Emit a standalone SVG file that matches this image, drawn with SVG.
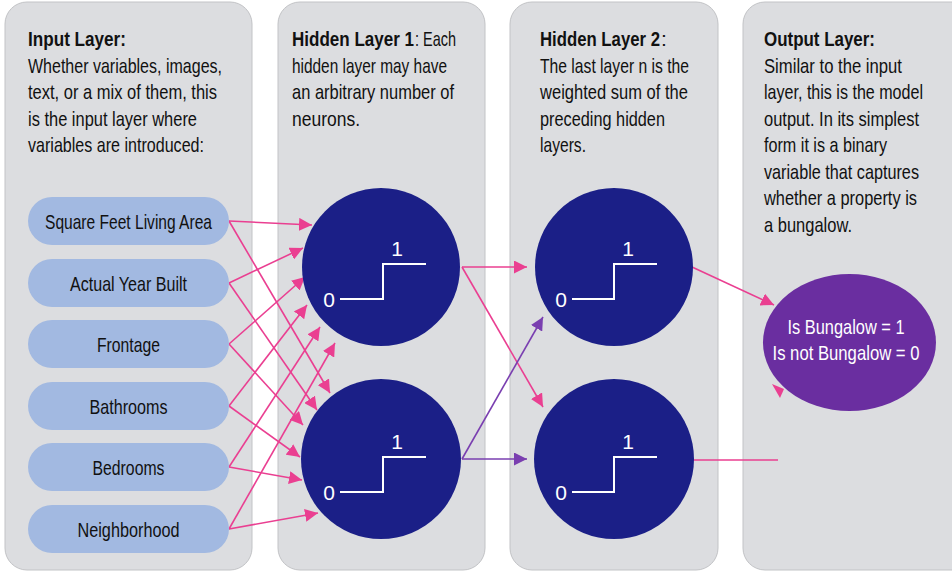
<svg xmlns="http://www.w3.org/2000/svg" width="952" height="573" viewBox="0 0 952 573">
  <style>
    .panel { fill: #dcdde0; stroke: #c2c3c6; stroke-width: 1; }
    .txt { font-family: "Liberation Sans Narrow", "Liberation Sans", Arial, sans-serif; font-size: 21px; fill: #111; }
    .b { font-weight: bold; }
    .pill { fill: #a2b9e1; }
    .pilltxt { font-family: "Liberation Sans Narrow", "Liberation Sans", Arial, sans-serif; font-size: 21px; fill: #111; text-anchor: middle; }
    .neuron { fill: #1b1f87; }
    .step { fill: none; stroke: #ffffff; stroke-width: 2; }
    .num { font-family: "Liberation Sans Narrow", "Liberation Sans", Arial, sans-serif; font-size: 21px; fill: #ffffff; text-anchor: middle; }
    .out { fill: #6a2ea0; }
    .outtxt { font-family: "Liberation Sans Narrow", "Liberation Sans", Arial, sans-serif; font-size: 21px; fill: #ffffff; text-anchor: middle; }
    .pink { stroke: #ea3f91; stroke-width: 1.6; fill: none; }
    .purple { stroke: #7a3fb0; stroke-width: 1.6; fill: none; }
  </style>
  <defs>
    <marker id="arrowPink" markerUnits="userSpaceOnUse" markerWidth="14" markerHeight="13" refX="13" refY="6.5" orient="auto">
      <path d="M0,0 L13,6.5 L0,13 z" fill="#ea3f91"/>
    </marker>
    <marker id="arrowPurple" markerUnits="userSpaceOnUse" markerWidth="14" markerHeight="13" refX="13" refY="6.5" orient="auto">
      <path d="M0,0 L13,6.5 L0,13 z" fill="#7a3fb0"/>
    </marker>
  </defs>

  <rect width="952" height="573" fill="#ffffff"/>

  <!-- layer columns -->
  <g id="panel-input">
    <rect class="panel" x="5" y="2" width="247" height="568" rx="22"/>
    <text class="txt b" x="28" y="46" textLength="98" lengthAdjust="spacingAndGlyphs">Input Layer:</text>
    <text class="txt" x="28" y="72.5" textLength="194" lengthAdjust="spacingAndGlyphs">Whether variables, images,</text>
    <text class="txt" x="28" y="99" textLength="189" lengthAdjust="spacingAndGlyphs">text, or a mix of them, this</text>
    <text class="txt" x="28" y="125.5" textLength="169" lengthAdjust="spacingAndGlyphs">is the input layer where</text>
    <text class="txt" x="28" y="152" textLength="176" lengthAdjust="spacingAndGlyphs">variables are introduced:</text>
  </g>
  <g id="panel-hidden1">
    <rect class="panel" x="278" y="2" width="207" height="568" rx="22"/>
    <text class="txt b" x="292" y="46" textLength="122" lengthAdjust="spacingAndGlyphs">Hidden Layer 1</text>
    <text class="txt" x="415" y="46" textLength="41" lengthAdjust="spacingAndGlyphs">: Each</text>
    <text class="txt" x="292" y="72.5" textLength="155" lengthAdjust="spacingAndGlyphs">hidden layer may have</text>
    <text class="txt" x="292" y="99" textLength="162" lengthAdjust="spacingAndGlyphs">an arbitrary number of</text>
    <text class="txt" x="292" y="125.5" textLength="68" lengthAdjust="spacingAndGlyphs">neurons.</text>
  </g>
  <g id="panel-hidden2">
    <rect class="panel" x="510" y="2" width="208" height="568" rx="22"/>
    <text class="txt b" x="540" y="46" textLength="120" lengthAdjust="spacingAndGlyphs">Hidden Layer 2</text>
    <text class="txt" x="661" y="46">:</text>
    <text class="txt" x="540" y="72.5" textLength="149" lengthAdjust="spacingAndGlyphs">The last layer n is the</text>
    <text class="txt" x="540" y="99" textLength="148" lengthAdjust="spacingAndGlyphs">weighted sum of the</text>
    <text class="txt" x="540" y="125.5" textLength="125" lengthAdjust="spacingAndGlyphs">preceding hidden</text>
    <text class="txt" x="540" y="152" textLength="46" lengthAdjust="spacingAndGlyphs">layers.</text>
  </g>
  <g id="panel-output">
    <rect class="panel" x="743" y="2" width="240" height="568" rx="22"/>
    <text class="txt b" x="764" y="46" textLength="111" lengthAdjust="spacingAndGlyphs">Output Layer:</text>
    <text class="txt" x="764" y="72.5" textLength="138" lengthAdjust="spacingAndGlyphs">Similar to the input</text>
    <text class="txt" x="764" y="99" textLength="159" lengthAdjust="spacingAndGlyphs">layer, this is the model</text>
    <text class="txt" x="764" y="125.5" textLength="155" lengthAdjust="spacingAndGlyphs">output. In its simplest</text>
    <text class="txt" x="764" y="152" textLength="123" lengthAdjust="spacingAndGlyphs">form it is a binary</text>
    <text class="txt" x="764" y="178.5" textLength="155" lengthAdjust="spacingAndGlyphs">variable that captures</text>
    <text class="txt" x="764" y="205" textLength="153" lengthAdjust="spacingAndGlyphs">whether a property is</text>
    <text class="txt" x="764" y="231.5" textLength="88" lengthAdjust="spacingAndGlyphs">a bungalow.</text>
  </g>

  <!-- connectors -->
  <g id="connectors">
    <g class="pink" marker-end="url(#arrowPink)">
      <line x1="229" y1="221" x2="312" y2="225"/>
      <line x1="229" y1="221" x2="330" y2="393"/>
      <line x1="229" y1="283" x2="303" y2="248"/>
      <line x1="229" y1="283" x2="317" y2="410"/>
      <line x1="229" y1="344" x2="305" y2="277"/>
      <line x1="229" y1="344" x2="303" y2="425"/>
      <line x1="229" y1="406" x2="307" y2="305"/>
      <line x1="229" y1="406" x2="300" y2="457"/>
      <line x1="229" y1="467" x2="320" y2="327"/>
      <line x1="229" y1="467" x2="302" y2="480"/>
      <line x1="229" y1="529" x2="335" y2="343"/>
      <line x1="229" y1="529" x2="318" y2="513"/>
      <line x1="462" y1="267" x2="527" y2="267"/>
      <line x1="462" y1="267" x2="543" y2="407"/>
      <line x1="692" y1="267" x2="774" y2="305"/>
    </g>
    <g class="purple" marker-end="url(#arrowPurple)">
      <line x1="462" y1="459" x2="527" y2="459"/>
      <line x1="462" y1="459" x2="543" y2="317"/>
    </g>
    <line class="pink" x1="692" y1="460" x2="778" y2="460"/>
    <polygon points="772,384 784,389 780,398" fill="#ea3f91"/>
  </g>

  <!-- input variables -->
  <g id="in-sqft">
    <rect class="pill" x="28" y="197" width="201" height="48" rx="24"/>
    <text class="pilltxt" x="128.5" y="228.5" textLength="167" lengthAdjust="spacingAndGlyphs">Square Feet Living Area</text>
  </g>
  <g id="in-year">
    <rect class="pill" x="28" y="259" width="201" height="48" rx="24"/>
    <text class="pilltxt" x="128.5" y="290.5" textLength="117" lengthAdjust="spacingAndGlyphs">Actual Year Built</text>
  </g>
  <g id="in-frontage">
    <rect class="pill" x="28" y="320" width="201" height="48" rx="24"/>
    <text class="pilltxt" x="128.5" y="351.5" textLength="63" lengthAdjust="spacingAndGlyphs">Frontage</text>
  </g>
  <g id="in-bathrooms">
    <rect class="pill" x="28" y="382" width="201" height="48" rx="24"/>
    <text class="pilltxt" x="128.5" y="413.5" textLength="78" lengthAdjust="spacingAndGlyphs">Bathrooms</text>
  </g>
  <g id="in-bedrooms">
    <rect class="pill" x="28" y="443" width="201" height="48" rx="24"/>
    <text class="pilltxt" x="128.5" y="474.5" textLength="72" lengthAdjust="spacingAndGlyphs">Bedrooms</text>
  </g>
  <g id="in-neighborhood">
    <rect class="pill" x="28" y="505" width="201" height="48" rx="24"/>
    <text class="pilltxt" x="128.5" y="536.5" textLength="102" lengthAdjust="spacingAndGlyphs">Neighborhood</text>
  </g>

  <!-- neurons with step activation -->
  <g id="h1-top">
    <circle class="neuron" cx="381" cy="267" r="79"/>
    <path class="step" d="M340,299 H383 V264 H426"/>
    <text class="num" x="329" y="307">0</text>
    <text class="num" x="397" y="256">1</text>
  </g>
  <g id="h1-bottom">
    <circle class="neuron" cx="381" cy="459" r="80"/>
    <path class="step" d="M340,492 H383 V457 H426"/>
    <text class="num" x="329" y="500">0</text>
    <text class="num" x="397" y="449">1</text>
  </g>
  <g id="h2-top">
    <circle class="neuron" cx="614" cy="267" r="79"/>
    <path class="step" d="M572,299 H614 V264 H657"/>
    <text class="num" x="561" y="307">0</text>
    <text class="num" x="628" y="256">1</text>
  </g>
  <g id="h2-bottom">
    <circle class="neuron" cx="614" cy="459" r="80"/>
    <path class="step" d="M572,492 H614 V457 H657"/>
    <text class="num" x="561" y="500">0</text>
    <text class="num" x="628" y="449">1</text>
  </g>

  <!-- output -->
  <g id="output">
    <ellipse class="out" cx="849.5" cy="342.5" rx="86.5" ry="68.5"/>
    <text class="outtxt" x="846" y="334" textLength="117" lengthAdjust="spacingAndGlyphs">Is Bungalow = 1</text>
    <text class="outtxt" x="846" y="360" textLength="147" lengthAdjust="spacingAndGlyphs">Is not Bungalow = 0</text>
  </g>
</svg>
